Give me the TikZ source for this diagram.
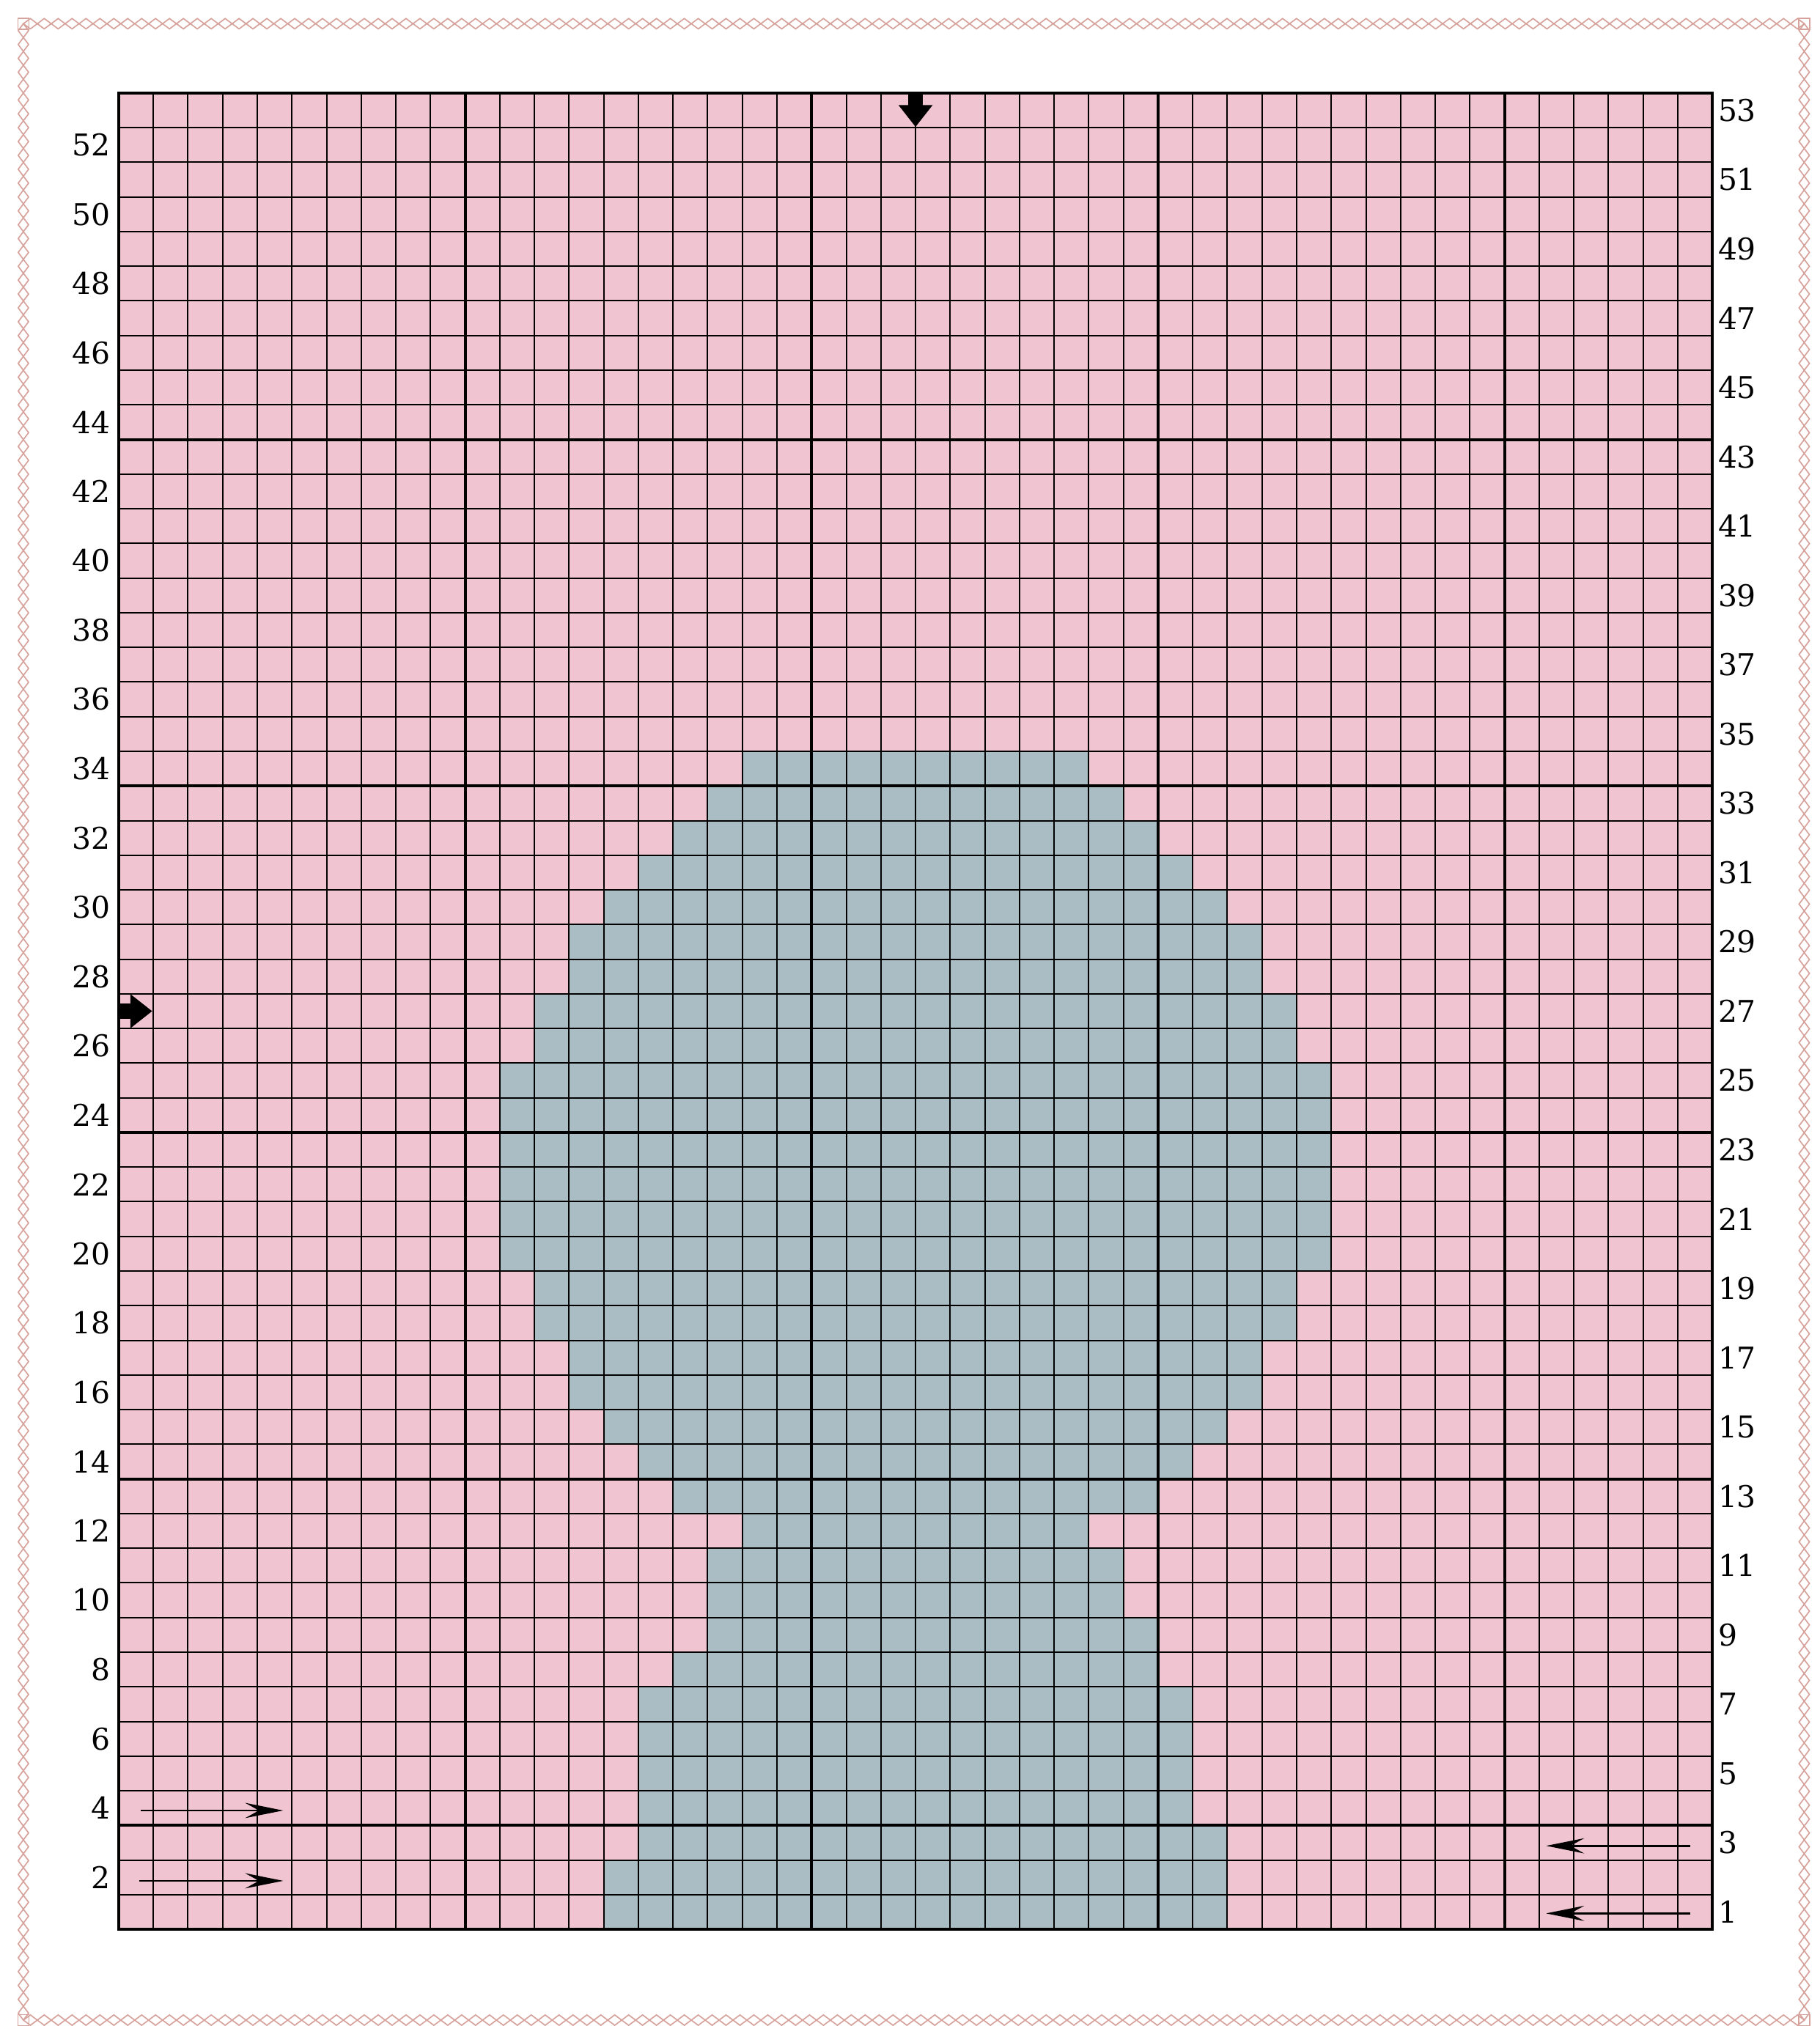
\documentclass[tikz,border=0pt]{standalone}
\usepackage{fontspec}
\setmainfont{DejaVu Serif}
\usetikzlibrary{arrows.meta}

\definecolor{yarnpink}{HTML}{F0C4D1}
\definecolor{yarngray}{HTML}{AABCC4}
\definecolor{chainrose}{HTML}{D6A29B}

\begin{document}
\begin{tikzpicture}[x=0.5cm, y=0.5cm,
  every node/.style={font=\fontsize{12.3}{14}\selectfont, inner sep=0pt},
  thinline/.style={black, line width=0.6pt},
  thickline/.style={black, line width=1.2pt},
  rowarrow/.style={line width=0.8pt, -{Stealth[length=0.55cm, width=0.22cm, inset=0.2cm]}},
  markarrow/.style={line width=0.22cm, -{Triangle[length=0.315cm, width=0.47cm]}},
  chain/.style={chainrose, line width=0.5pt}]

\useasboundingbox (-3.425,-2.79) rectangle (49.09,55.685);

% Border
\foreach \i in {0,...,127} {
  \draw[chain, shift={({-2.75+0.2008+\i*0.4016},55.0)}]
    (-0.2,0) -- (0,0.15) -- (0.2,0) -- (0,-0.15) -- cycle;
  \draw[chain, shift={({-2.75+0.2008+\i*0.4016},-2.62)}]
    (-0.2,0) -- (0,0.15) -- (0.2,0) -- (0,-0.15) -- cycle;
}
\foreach \i in {0,...,143} {
  \draw[chain, shift={(-2.75,{-2.62+0.2+\i*0.40014})}]
    (0,-0.2) -- (0.15,0) -- (0,0.2) -- (-0.15,0) -- cycle;
  \draw[chain, shift={(48.65,{-2.62+0.2+\i*0.40014})}]
    (0,-0.2) -- (0.15,0) -- (0,0.2) -- (-0.15,0) -- cycle;
}
\foreach \cx/\cy in {-2.75/55.0, 48.65/55.0, -2.75/-2.62, 48.65/-2.62}
  \draw[chain] (\cx-0.16,\cy-0.16) rectangle (\cx+0.16,\cy+0.16);

% Chart
\fill[yarnpink] (0,0) rectangle (46,53);
\foreach \r/\a/\b in {1/14/31, 2/14/31, 3/15/31, 4/15/30, 5/15/30, 6/15/30,
  7/15/30, 8/16/29, 9/17/29, 10/17/28, 11/17/28, 12/18/27, 13/16/29,
  14/15/30, 15/14/31, 16/13/32, 17/13/32, 18/12/33, 19/12/33,
  20/11/34, 21/11/34, 22/11/34, 23/11/34, 24/11/34, 25/11/34,
  26/12/33, 27/12/33, 28/13/32, 29/13/32, 30/14/31, 31/15/30,
  32/16/29, 33/17/28, 34/18/27}
  \fill[yarngray] (\a,\r-1) rectangle (\b+1,\r);

\draw[thinline, step=0.5cm] (0,0) grid (46,53);
\foreach \x in {10,20,30,40}
  \draw[thickline] (\x,0) -- (\x,53);
\foreach \y in {3,13,23,33,43}
  \draw[thickline] (0,\y) -- (46,\y);
\draw[thickline] (0,0) rectangle (46,53);

% Row numbers
\foreach \n in {2,4,...,52}
  \node[anchor=east] (left\n) at (-0.22,\n-0.5) {\n};
\foreach \n in {1,3,...,53}
  \node[anchor=west] (right\n) at (46.15,\n-0.5) {\n};

% Arrows
\coordinate (topstart) at (23,53);
\coordinate (topend) at (23,52.02);
\coordinate (sidestart) at (0,26.5);
\coordinate (sideend) at (0.97,26.5);
\draw[markarrow] (topstart) -- (topend);
\draw[markarrow] (sidestart) -- (sideend);

\coordinate (rowfourA) at (0.63,3.43);
\coordinate (rowfourB) at (4.75,3.43);
\coordinate (rowtwoA) at (0.6,1.4);
\coordinate (rowtwoB) at (4.75,1.4);
\coordinate (rowthreeA) at (45.35,2.41);
\coordinate (rowthreeB) at (41.2,2.41);
\coordinate (rowoneA) at (45.35,0.46);
\coordinate (rowoneB) at (41.2,0.46);
\draw[rowarrow] (rowfourA) -- (rowfourB);
\draw[rowarrow] (rowtwoA) -- (rowtwoB);
\draw[rowarrow] (rowthreeA) -- (rowthreeB);
\draw[rowarrow] (rowoneA) -- (rowoneB);

\end{tikzpicture}
\end{document}
